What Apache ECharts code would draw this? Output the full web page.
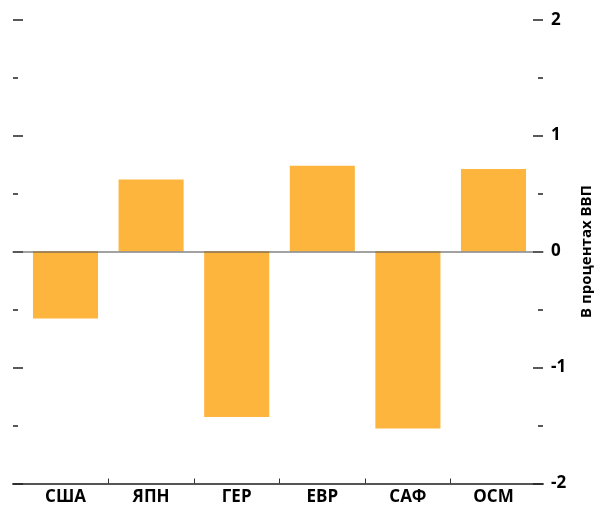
<!DOCTYPE html>
<html>
<head>
<meta charset="utf-8">
<script src="https://cdn.jsdelivr.net/npm/echarts@6/dist/echarts.min.js"></script>
<style>html,body{margin:0;padding:0;background:#fff}#c{width:602px;height:506px}</style>
</head>
<body>
<div id="c"></div>
<script>
const categories = ['США', 'ЯПН', 'ГЕР', 'ЕВР', 'САФ', 'ОСМ'];
const values = [-0.58, 0.62, -1.43, 0.74, -1.53, 0.71];
const yMin = -2, yMax = 2, yInterval = 1;
const axisName = 'В процентах ВВП';

const FONT = '"Open Sans", "Noto Sans", sans-serif';
const CW = 602;
const barLeft = 22.7, barRight = 65.7;
const band = (CW - barLeft - barRight) / categories.length;
const gTop = 19.7, gBottom = 22.5;

const chart = echarts.init(document.getElementById('c'), null, {renderer: 'canvas'});
chart.setOption({
  animation: false,
  grid: [
    {left: 13, right: 56, top: gTop, bottom: gBottom},
    {left: barLeft, right: barRight, top: gTop, bottom: gBottom},
    {left: barLeft + band, right: barRight + band, top: gTop, bottom: gBottom}
  ],
  xAxis: [
    {gridIndex: 0, type: 'category', data: categories, position: 'bottom',
     axisLine: {onZero: false, lineStyle: {color: '#555', width: 2}},
     axisTick: {show: false}, axisLabel: {show: false}, splitLine: {show: false}},
    {gridIndex: 0, type: 'category', data: categories, z: 5,
     axisLine: {onZero: true, lineStyle: {color: 'rgba(90,90,90,0.75)', width: 1.5}},
     axisTick: {show: false}, axisLabel: {show: false}, splitLine: {show: false}},
    {gridIndex: 1, type: 'category', data: categories, position: 'bottom',
     axisLine: {show: false, onZero: false},
     axisTick: {show: false},
     axisLabel: {color: '#000', fontFamily: FONT, fontWeight: 'bold', fontSize: 17, margin: 6},
     splitLine: {show: false}},
    {gridIndex: 2, type: 'value', min: 1, max: categories.length - 1, interval: 1, position: 'bottom',
     axisLine: {show: false, onZero: false},
     axisTick: {show: true, inside: true, length: 5, lineStyle: {color: '#333', width: 1}},
     axisLabel: {show: false}, splitLine: {show: false}}
  ],
  yAxis: [
    {gridIndex: 0, type: 'value', position: 'left', min: yMin, max: yMax, interval: yInterval,
     axisLine: {show: false},
     axisTick: {show: true, inside: true, length: 10, lineStyle: {color: '#222', width: 1.5}},
     minorTick: {show: true, splitNumber: 2, length: 5, lineStyle: {color: '#222', width: 1.5}},
     axisLabel: {show: false}, splitLine: {show: false}},
    {gridIndex: 0, type: 'value', position: 'right', min: yMin, max: yMax, interval: yInterval,
     axisLine: {show: false},
     axisTick: {show: true, inside: true, length: 10, lineStyle: {color: '#222', width: 1.5}},
     minorTick: {show: true, splitNumber: 2, length: 5, lineStyle: {color: '#222', width: 1.5}},
     axisLabel: {color: '#000', fontFamily: FONT, fontWeight: 'bold', fontSize: 17, margin: 8},
     name: axisName, nameLocation: 'middle', nameRotate: 90, nameGap: 36,
     nameTextStyle: {color: '#000', fontFamily: FONT, fontWeight: 'bold', fontSize: 15},
     splitLine: {show: false}},
    {gridIndex: 1, type: 'value', min: yMin, max: yMax, interval: yInterval, show: false},
    {gridIndex: 2, type: 'value', min: yMin, max: yMax, interval: yInterval, show: false}
  ],
  series: [{
    type: 'bar', xAxisIndex: 2, yAxisIndex: 2, data: values,
    barCategoryGap: '24%', z: 2,
    itemStyle: {color: '#FDB53E'}
  }]
});
</script>
</body>
</html>
